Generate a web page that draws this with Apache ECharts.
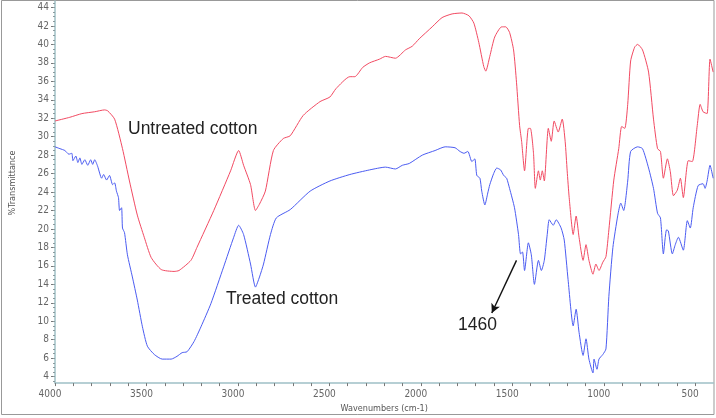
<!DOCTYPE html>
<html>
<head>
<meta charset="utf-8">
<script src="https://cdn.jsdelivr.net/npm/echarts@6/dist/echarts.min.js"></script>
<style>
  html, body { margin: 0; padding: 0; background: #fff; }
  #chart { width: 716px; height: 418px; }
</style>
</head>
<body>
<div id="chart"></div>
<script>
// FTIR spectra, [wavenumber cm-1, %T]
const untreated = [
  [4000, 31.7], [3919, 32.1], [3853, 32.5], [3783, 32.7], [3729, 32.9], [3712, 32.8],
  [3674, 31.9], [3631, 28.7], [3593, 25.2], [3550, 21.5], [3512, 19.1], [3474, 16.9],
  [3419, 15.6], [3349, 15.4], [3322, 15.5], [3257, 16.6], [3224, 18.0], [3132, 22.0],
  [3040, 26.3], [2996, 28.5], [2969, 26.9], [2931, 24.8], [2904, 22.0], [2882, 22.7],
  [2850, 24.1], [2806, 28.5], [2752, 29.8], [2714, 30.1], [2643, 32.3], [2551, 33.8],
  [2497, 34.3], [2464, 35.2], [2388, 36.5], [2361, 36.5], [2318, 37.5], [2280, 38.0],
  [2226, 38.4], [2193, 38.7], [2139, 38.5], [2084, 39.4], [2047, 39.8], [2009, 40.6],
  [1938, 41.9], [1884, 42.9], [1829, 43.3], [1775, 43.4], [1737, 43.1], [1710, 42.3],
  [1683, 40.2], [1656, 37.6], [1645, 37.1], [1623, 38.7], [1596, 40.8], [1558, 41.9],
  [1536, 41.9], [1515, 41.3], [1493, 39.4], [1477, 35.9], [1460, 31.2], [1449, 29.5],
  [1433, 26.3], [1412, 30.9], [1401, 30.9], [1384, 28.2], [1374, 24.4], [1357, 26.3],
  [1347, 25.3], [1336, 26.3], [1325, 25.2], [1303, 30.9], [1287, 29.5], [1271, 31.7],
  [1249, 30.5], [1227, 31.9], [1211, 29.5], [1200, 26.3], [1189, 23.4], [1167, 19.4],
  [1151, 21.4], [1135, 19.1], [1113, 16.6], [1097, 18.3], [1081, 16.6], [1059, 15.1],
  [1043, 16.2], [1026, 15.5], [1005, 16.4], [988, 17.0], [972, 19.9], [945, 25.3],
  [918, 28.7], [902, 31.1], [885, 30.9], [869, 33.5], [853, 38.2], [831, 39.7],
  [815, 40.0], [788, 39.4], [755, 37.0], [728, 31.9], [706, 28.7], [690, 28.4],
  [674, 25.5], [652, 27.6], [636, 26.2], [619, 23.6], [598, 24.2], [581, 25.5],
  [565, 23.4], [538, 27.4], [516, 27.3], [489, 31.2], [473, 33.5], [457, 32.7],
  [435, 32.5], [419, 38.4], [402, 37.0]
];

const treated = [
  [4000, 28.9], [3973, 28.7], [3946, 28.5], [3924, 28.1], [3908, 28.2], [3902, 27.4],
  [3886, 27.9], [3875, 27.2], [3864, 27.7], [3853, 27.0], [3837, 27.5], [3821, 26.9],
  [3805, 27.5], [3794, 27.0], [3783, 27.5], [3767, 26.8], [3745, 25.5], [3734, 25.9],
  [3718, 25.3], [3702, 25.8], [3685, 24.8], [3674, 25.0], [3664, 24.1], [3653, 23.4],
  [3647, 22.0], [3636, 22.3], [3631, 20.1], [3620, 19.6], [3604, 17.2], [3577, 14.8],
  [3550, 12.3], [3522, 9.4], [3495, 7.3], [3457, 6.4], [3414, 5.9], [3365, 5.9],
  [3333, 6.2], [3305, 6.6], [3278, 6.7], [3240, 7.8], [3202, 9.4], [3148, 11.9],
  [3078, 15.9], [3023, 19.1], [2996, 20.4], [2969, 19.4], [2931, 16.2], [2904, 13.7],
  [2882, 14.8], [2860, 16.2], [2822, 19.4], [2790, 21.2], [2714, 22.1], [2605, 24.1],
  [2497, 25.2], [2388, 25.9], [2280, 26.4], [2193, 26.7], [2139, 26.5], [2101, 26.9],
  [2063, 27.1], [1992, 28.0], [1922, 28.5], [1867, 28.9], [1813, 28.8], [1786, 28.4],
  [1764, 28.2], [1743, 28.4], [1721, 27.3], [1705, 27.6], [1694, 25.8], [1677, 25.5],
  [1667, 24.1], [1650, 22.6], [1634, 23.9], [1623, 24.8], [1602, 26.0], [1585, 26.6],
  [1564, 26.4], [1547, 25.8], [1531, 25.5], [1515, 24.4], [1488, 22.3], [1466, 19.4],
  [1455, 17.3], [1444, 17.5], [1433, 15.5], [1412, 18.5], [1396, 17.2], [1379, 14.0],
  [1357, 16.6], [1341, 15.5], [1325, 16.6], [1309, 19.4], [1298, 21.0], [1276, 20.4],
  [1260, 21.0], [1233, 20.1], [1216, 18.8], [1195, 14.5], [1167, 9.5], [1151, 11.3],
  [1135, 8.8], [1113, 6.3], [1097, 8.1], [1081, 5.9], [1059, 4.4], [1053, 5.9],
  [1037, 4.8], [1026, 5.9], [1005, 6.4], [988, 7.0], [972, 12.7], [950, 18.0],
  [923, 21.5], [907, 22.8], [891, 22.0], [869, 25.2], [853, 28.4], [815, 28.9],
  [788, 28.7], [755, 26.6], [728, 24.4], [706, 21.7], [690, 21.2], [674, 17.3],
  [657, 19.9], [647, 19.8], [625, 17.3], [609, 18.3], [592, 19.1], [565, 17.7],
  [543, 20.9], [527, 20.1], [511, 22.3], [484, 24.7], [457, 24.9], [446, 24.4],
  [435, 25.2], [419, 26.9], [402, 25.5]
];

const xLabels = [4000, 3500, 3000, 2500, 2000, 1500, 1000, 500];
const xTicks = [4000, 3900, 3800, 3700, 3600, 3500, 3400, 3300, 3200, 3100, 3000, 2900,
  2800, 2700, 2600, 2500, 2400, 2300, 2200, 2100, 2000, 1900, 1800, 1700, 1600, 1500,
  1400, 1300, 1200, 1100, 1000, 900, 800, 700, 600, 500];
const yLabels = [4, 6, 8, 10, 12, 14, 16, 18, 20, 22, 24, 26, 28, 30, 32, 34, 36, 38, 40, 42, 44];
const yMinor = [];
for (let v = 3.5; v <= 44.5; v += 0.5) yMinor.push(v);

// peak marker: arrow tail -> head, in data units
const arrowFrom = [1477, 16.6];
const arrowTo = [1612, 10.9];

const tickFont = "'Liberation Sans Narrow', 'DejaVu Sans Condensed', sans-serif";
const noteFont = "'Liberation Sans', Arial, sans-serif";
const axisColor = '#9fc0c6';
const plain = (v) => String(v);

const chart = echarts.init(document.getElementById('chart'), null, { renderer: 'canvas' });

chart.setOption({
  animation: false,
  backgroundColor: '#fff',
  grid: { left: 50, right: 2.5, top: 1, bottom: 31, containLabel: false },
  xAxis: {
    type: 'value',
    inverse: true,
    min: 400,
    max: 4000,
    name: 'Wavenumbers (cm-1)',
    nameLocation: 'middle',
    nameGap: 15,
    nameTextStyle: { fontFamily: tickFont, fontSize: 9, color: '#555' },
    axisLine: { show: true, lineStyle: { color: axisColor, width: 1.5 } },
    axisTick: { show: true, customValues: xTicks, length: 3, lineStyle: { color: '#777' } },
    axisLabel: {
      customValues: xLabels, formatter: plain, margin: 6, fontFamily: tickFont, fontSize: 10,
      color: '#666', padding: [0, 10, 0, 0]
    },
    splitLine: { show: false }
  },
  yAxis: [{
    type: 'value',
    min: 3.3,
    max: 44.7,
    name: '%Transmittance',
    nameLocation: 'middle',
    nameGap: 38,
    nameRotate: 90,
    nameTextStyle: { fontFamily: tickFont, fontSize: 9, color: '#555', padding: [0, 0, 0, 18] },
    axisLine: { show: true, lineStyle: { color: axisColor, width: 1.5 } },
    axisTick: { show: true, customValues: yLabels, length: 4, lineStyle: { color: '#777' } },
    axisLabel: { customValues: yLabels, formatter: plain, margin: 6, fontFamily: tickFont, fontSize: 10, color: '#666' },
    splitLine: { show: false }
  }, {
    type: 'value',
    position: 'left',
    min: 3.3,
    max: 44.7,
    axisLine: { show: false },
    axisTick: { show: true, customValues: yMinor, length: 2, lineStyle: { color: '#8a9a9e' } },
    axisLabel: { show: false },
    splitLine: { show: false }
  }],
  series: [{
    name: 'Untreated cotton',
    type: 'line',
    data: untreated,
    showSymbol: false,
    smooth: 0.2,
    lineStyle: { color: '#f24a62', width: 1 },
    z: 3
  }, {
    name: 'Treated cotton',
    type: 'line',
    data: treated,
    showSymbol: false,
    smooth: 0.2,
    lineStyle: { color: '#4b5cf2', width: 1 },
    z: 3,
    markLine: {
      silent: true,
      symbol: ['none', 'arrow'],
      symbolSize: [7, 9],
      label: { show: false },
      lineStyle: { color: '#111', width: 1.4, type: 'solid' },
      data: [[{ coord: arrowFrom }, { coord: arrowTo }]]
    }
  }],
  graphic: [
    {
      type: 'rect', silent: true, z: 0,
      shape: { x: 1.5, y: 0.5, width: 712.5, height: 414 },
      style: { fill: 'none', stroke: '#999', lineWidth: 1 }
    },
    {
      type: 'text', left: 128, top: 120,
      style: { text: 'Untreated cotton', font: '17.5px ' + noteFont, fill: '#222' }
    },
    {
      type: 'text', left: 226, top: 290,
      style: { text: 'Treated cotton', font: '17.5px ' + noteFont, fill: '#222' }
    },
    {
      type: 'text', left: 458, top: 316,
      style: { text: '1460', font: '17.5px ' + noteFont, fill: '#222' }
    }
  ]
});
</script>
</body>
</html>
